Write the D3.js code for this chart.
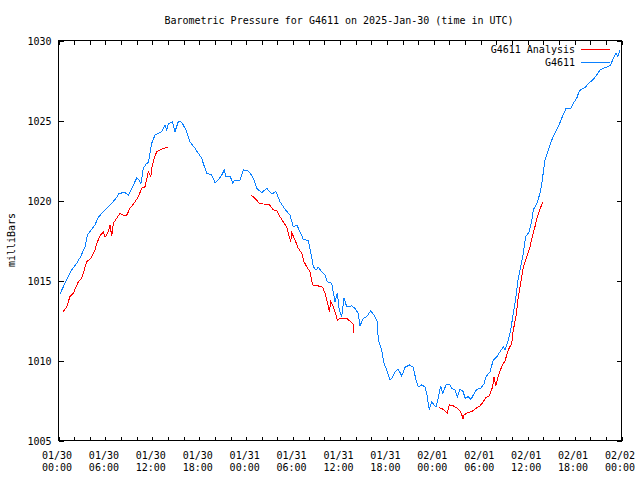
<!DOCTYPE html>
<html><head><meta charset="utf-8">
<script src="https://cdn.jsdelivr.net/npm/d3@7"></script>
<style>
body{margin:0;background:#fff}
text{font-family:"DejaVu Sans Mono","Liberation Mono",monospace;font-size:10px;fill:#000}
</style>
</head><body>
<svg id="chart" width="640" height="480"></svg>
<script>
// ---- data (hours after 2025-01-30 00:00 UTC, millibars) ----
const stationHours = [0.26,0.68,1.11,1.75,2.39,2.94,3.45,3.75,4.09,4.73,5.15,5.79,6.23,6.87,7.51,7.80,8.57,8.99,9.43,10.06,10.36,10.61,10.91,11.34,11.55,11.98,12.40,12.83,13.26,13.68,13.90,14.11,14.62,14.96,15.38,15.73,16.02,16.46,16.88,17.52,17.94,18.38,18.58,19.02,19.66,20.08,20.50,20.94,21.27,21.45,22.00,22.34,22.64,23.28,23.70,24.26,24.77,25.10,25.41,26.05,26.69,27.33,27.88,28.39,29.03,29.67,30.09,30.53,30.95,31.37,32.01,32.44,32.65,33.00,33.29,33.72,34.15,34.44,35.00,35.42,35.72,35.97,36.28,36.58,36.92,37.56,37.98,38.40,38.62,39.04,39.48,39.99,40.54,40.83,40.96,41.40,41.69,42.04,42.46,42.68,43.10,43.52,43.96,44.38,44.93,45.44,45.78,46.08,46.51,46.93,47.15,47.48,47.79,48.09,48.34,48.63,48.94,49.20,49.62,50.13,50.35,50.77,51.07,51.41,51.83,52.05,52.47,52.82,53.11,53.55,54.06,54.48,54.74,55.25,55.67,56.10,56.53,56.95,57.16,57.59,57.89,58.23,58.57,58.87,59.17,59.51,59.81,60.27,60.58,60.78,61.22,61.64,61.86,62.07,62.28,62.71,63.14,63.56,63.98,64.42,64.97,65.57,65.90,66.34,66.67,67.18,67.52,67.82,68.38,68.89,69.31,69.74,70.38,70.68,71.02,71.36,71.58,71.87];
const stationValues = [1014.13,1014.58,1015.00,1015.63,1016.04,1016.50,1017.08,1017.81,1018.02,1018.44,1018.92,1019.27,1019.48,1019.79,1020.17,1020.42,1020.46,1020.31,1020.73,1021.36,1021.25,1021.04,1021.98,1022.29,1022.33,1023.54,1024.06,1024.17,1024.27,1024.69,1024.38,1024.75,1024.89,1024.27,1024.89,1024.89,1024.69,1024.27,1023.64,1023.23,1022.92,1022.61,1022.29,1021.67,1021.56,1021.08,1021.25,1021.56,1021.88,1021.50,1021.50,1021.08,1021.25,1021.25,1021.88,1021.83,1021.56,1021.21,1020.73,1020.46,1020.73,1020.38,1020.52,1019.89,1019.42,1019.06,1018.33,1018.44,1018.02,1017.54,1017.46,1016.46,1015.83,1015.63,1015.79,1015.52,1015.31,1014.89,1014.79,1013.64,1014.17,1013.13,1012.71,1013.86,1013.33,1013.38,1013.23,1012.92,1012.13,1012.61,1012.71,1013.08,1012.71,1012.39,1011.25,1010.63,1009.79,1009.38,1008.75,1008.86,1009.27,1009.42,1009.00,1009.54,1009.69,1009.54,1008.75,1008.33,1008.44,1008.33,1007.92,1006.88,1007.39,1007.19,1007.08,1007.61,1008.38,1007.92,1008.44,1008.44,1008.23,1008.13,1007.71,1008.17,1008.02,1007.61,1007.71,1007.54,1007.81,1008.17,1008.23,1008.50,1008.96,1009.27,1010.00,1010.19,1010.52,1010.83,1010.63,1011.25,1011.88,1012.92,1013.96,1015.13,1015.83,1016.67,1017.71,1018.02,1018.69,1019.38,1019.75,1020.42,1021.00,1021.75,1022.50,1023.13,1023.75,1024.17,1024.58,1025.11,1025.73,1025.73,1026.04,1026.36,1026.83,1026.98,1027.08,1027.29,1027.50,1027.81,1028.13,1028.23,1028.33,1028.44,1028.86,1029.17,1028.96,1029.38];

// null values mark gaps in the analysis series
const analysisHours = [0.68,1.11,1.53,1.96,2.60,3.03,3.67,4.22,4.73,4.95,5.37,5.79,6.01,6.36,6.65,6.87,7.07,7.51,7.93,8.35,8.79,9.21,9.85,10.27,10.70,11.13,11.55,11.86,12.06,12.32,12.62,13.04,13.47,14.03,
  19.0,
  24.68,25.19,25.74,26.26,27.02,27.53,27.97,28.39,28.81,29.25,29.58,29.76,29.89,30.31,30.73,31.17,31.46,31.81,32.23,32.57,33.29,33.85,34.15,34.44,34.70,34.87,35.21,35.55,35.72,36.06,36.92,37.43,37.76,37.85,
  43.0,
  48.72,49.27,49.79,50.04,50.55,51.07,51.50,51.83,51.92,52.34,52.91,53.46,53.97,54.39,54.74,55.16,55.59,55.76,55.98,56.31,56.74,57.16,57.59,58.02,58.23,58.57,58.87,59.17,59.43,59.72,60.02,60.36,60.71,61.00,61.30,61.64,61.99];
const analysisValues = [1013.02,1013.33,1013.96,1014.17,1014.89,1015.11,1016.14,1016.36,1016.88,1017.29,1017.75,1018.02,1017.67,1017.92,1018.44,1017.75,1018.54,1018.86,1019.17,1019.06,1019.06,1019.48,1019.89,1020.21,1020.73,1020.83,1021.77,1021.46,1022.19,1022.61,1023.02,1023.13,1023.23,1023.29,
  null,
  1020.31,1020.11,1019.79,1019.75,1019.73,1019.38,1019.33,1018.96,1018.64,1018.29,1017.71,1017.39,1017.96,1017.50,1016.98,1016.67,1016.14,1015.83,1015.52,1014.69,1014.63,1014.54,1014.17,1013.64,1013.02,1013.64,1013.33,1012.81,1012.46,1012.61,1012.61,1012.39,1012.25,1011.71,
  null,
  1007.02,1006.92,1006.67,1007.19,1007.13,1006.98,1006.77,1006.29,1006.56,1006.71,1006.77,1006.98,1007.13,1007.39,1007.67,1007.75,1008.33,1008.96,1008.38,1009.00,1009.58,1009.94,1010.63,1011.04,1011.88,1012.71,1013.96,1014.79,1015.63,1016.14,1016.56,1017.08,1017.81,1018.33,1018.96,1019.42,1019.89];

const yTickValues = [1005,1010,1015,1020,1025,1030];
const xMajorHours = [0,6,12,18,24,30,36,42,48,54,60,66,72];
const xMinorHours = [0,2,4,6,8,10,12,14,16,18,20,22,24,26,28,30,32,34,36,38,40,42,44,46,48,50,52,54,56,58,60,62,64,66,68,70,72];
const seriesNames = ["G4611 Analysis","G4611"];
const seriesColors = ["#ff0000","#0a80ff"];
const titleText = "Barometric Pressure for G4611 on 2025-Jan-30 (time in UTC)";
const yLabelText = "milliBars";

// ---- drawing ----
const base = Date.UTC(2025,0,30);
const toDate = h => new Date(base + h*3600e3);
const L=58, R=621, T=40, B=440;
const svg = d3.select("#chart");
const x = d3.scaleUtc().domain([toDate(0), toDate(72)]).range([L, R]);
const y = d3.scaleLinear().domain([1005,1030]).range([B, T]);

const fmt1 = d3.utcFormat("%m/%d"), fmt2 = d3.utcFormat("%H:%M");

// bottom / top axes (inward ticks)
const gB = svg.append("g").attr("transform",`translate(0.5,${B+0.5})`)
  .call(d3.axisBottom(x).tickValues(xMinorHours.map(toDate)).tickSizeInner(-4).tickSizeOuter(0).tickFormat(""));
gB.select(".domain").remove();
gB.selectAll("line").attr("stroke","#000").attr("shape-rendering","crispEdges");
const gT = svg.append("g").attr("transform",`translate(0.5,${T+0.5})`)
  .call(d3.axisTop(x).tickValues(xMinorHours.map(toDate)).tickSizeInner(-4).tickSizeOuter(0).tickFormat(""));
gT.select(".domain").remove();
gT.selectAll("line").attr("stroke","#000").attr("shape-rendering","crispEdges");

// x labels (two lines)
const labG = svg.append("g");
xMajorHours.forEach(h=>{
  const d = toDate(h);
  const t = labG.append("text").attr("x", x(d)-1).attr("text-anchor","middle");
  t.append("tspan").attr("x", x(d)-1).attr("y", 459).text(fmt1(d));
  t.append("tspan").attr("x", x(d)-1).attr("y", 471).text(fmt2(d));
});

// left / right axes
const gL = svg.append("g").attr("transform",`translate(${L+0.5},0.5)`)
  .call(d3.axisLeft(y).tickValues(yTickValues).tickSizeInner(-5).tickSizeOuter(0).tickPadding(7).tickFormat(d3.format("d")));
gL.select(".domain").remove();
gL.selectAll("line").attr("stroke","#000").attr("shape-rendering","crispEdges");
gL.selectAll("text").attr("font-family",null).attr("font-size",null).attr("x",-7).attr("dy","0.35em");
const gR = svg.append("g").attr("transform",`translate(${R+0.5},0.5)`)
  .call(d3.axisRight(y).tickValues(yTickValues).tickSizeInner(-5).tickSizeOuter(0).tickFormat(""));
gR.select(".domain").remove();
gR.selectAll("line").attr("stroke","#000").attr("shape-rendering","crispEdges");

// lines
const analysisData = analysisHours.map((h,i)=>({d:toDate(h), v:analysisValues[i]}));
const stationData = stationHours.map((h,i)=>({d:toDate(h), v:stationValues[i]}));
const line = d3.line().defined(p=>p.v!=null).x(p=>x(p.d)).y(p=>y(p.v));
svg.append("path").datum(analysisData).attr("d",line).attr("fill","none")
  .attr("stroke",seriesColors[0]).attr("stroke-width",1).attr("shape-rendering","crispEdges");
svg.append("path").datum(stationData).attr("d",line).attr("fill","none")
  .attr("stroke",seriesColors[1]).attr("stroke-width",1).attr("shape-rendering","crispEdges");

// border
svg.append("rect").attr("x",L+0.5).attr("y",T+0.5).attr("width",R-L).attr("height",B-T)
  .attr("fill","none").attr("stroke","#000").attr("shape-rendering","crispEdges");

// legend
seriesNames.forEach((n,i)=>{
  const yy = 49 + i*13;
  svg.append("text").attr("x",575).attr("y",yy+4).attr("text-anchor","end").text(n);
  svg.append("rect").attr("x",581).attr("y",yy).attr("width",29).attr("height",1)
    .attr("fill",seriesColors[i]).attr("stroke","none");
});

// title & y label
svg.append("text").attr("x",339).attr("y",24).attr("text-anchor","middle").text(titleText);
svg.append("text").attr("transform","translate(15,240) rotate(-90)").attr("text-anchor","middle").text(yLabelText);
</script>
</body></html>
